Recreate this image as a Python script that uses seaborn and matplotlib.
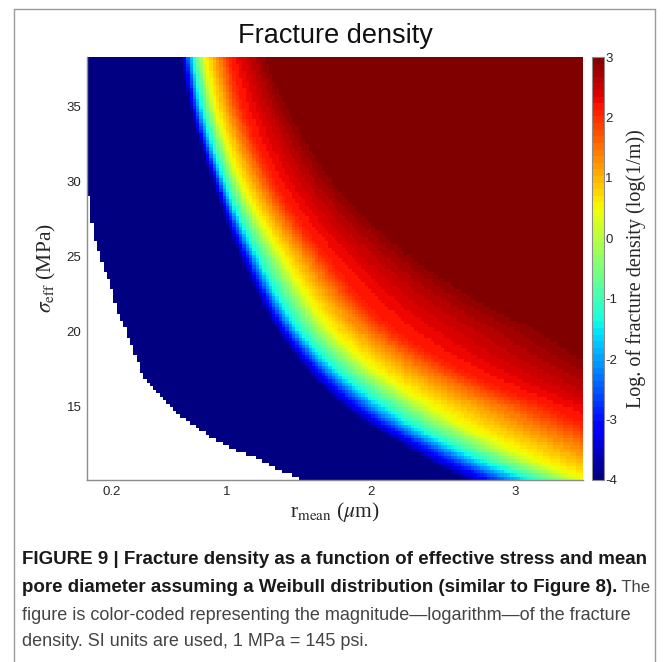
import numpy as np
import pandas as pd
import seaborn as sns
import matplotlib.pyplot as plt
from matplotlib.lines import Line2D

# r_mean (um) where log fracture density reaches each level,
# for a few sigma_eff rows (MPa)
sigma_rows = [10.2, 12.5, 15.0, 20.0, 25.0, 30.0, 35.0, 38.3]
levels = [-4.0, -1.4, 0.4, 2.1, 3.0]
r_at_m40 = [2.63, 2.20, 1.80, 1.35, 1.09, 0.90, 0.74, 0.68]
r_at_m14 = [3.08, 2.52, 2.08, 1.50, 1.21, 0.98, 0.82, 0.76]
r_at_p04 = [3.45, 2.88, 2.40, 1.72, 1.38, 1.09, 0.91, 0.84]
r_at_p21 = [4.43, 3.80, 3.20, 2.15, 1.68, 1.32, 1.10, 1.02]
r_at_p30 = [5.82, 5.00, 4.25, 3.30, 2.35, 1.78, 1.45, 1.29]

# edge of the undefined (white) region
nan_sigma = [10.13, 10.8, 11.67, 12.33, 13.47, 14.6, 15.93, 16.8, 18.13, 19.93,
             21.27, 23.27, 25.0, 27.5, 30.27]
nan_r = [1.51, 1.37, 1.18, 1.00, 0.815, 0.655, 0.516, 0.433, 0.377, 0.308,
         0.245, 0.19, 0.12, 0.06, 0.03]

r_lim = (0.03, 3.47)
s_lim = (10.1, 38.3)
xtick_vals = [0.2, 1, 2, 3]
ytick_vals = [15, 20, 25, 30, 35]
cbar_ticks = [-4, -3, -2, -1, 0, 1, 2, 3]

caption_bold1 = "FIGURE 9 | Fracture density as a function of effective stress and mean"
caption_bold2 = "pore diameter assuming a Weibull distribution (similar to Figure 8)."
caption_reg2 = " The"
caption_reg3 = "figure is color-coded representing the magnitude\u2014logarithm\u2014of the fracture"
caption_reg4 = "density. SI units are used, 1 MPa = 145 psi."

# grid of cells (the map itself)
nx, ny = 150, 122
r_edges = np.linspace(r_lim[0], r_lim[1], nx + 1)
s_edges = np.linspace(s_lim[0], s_lim[1], ny + 1)
r_c = 0.5 * (r_edges[:-1] + r_edges[1:])
s_c = 0.5 * (s_edges[:-1] + s_edges[1:])

ls_rows = np.log(sigma_rows)
level_tab = [np.log(a) for a in [r_at_m40, r_at_m14, r_at_p04, r_at_p21, r_at_p30]]
Z = np.empty((ny, nx))
for j, s in enumerate(s_c):
    pos = [np.exp(np.interp(np.log(s), ls_rows, arr)) for arr in level_tab]
    row = np.interp(r_c, pos, levels)
    edge = np.exp(np.interp(np.log(s), np.log(nan_sigma), np.log(nan_r), right=-50))
    row[r_c < edge] = np.nan
    Z[j] = row

df = pd.DataFrame(Z[::-1], index=np.round(s_c[::-1], 2), columns=np.round(r_c, 3))

sns.set_style("white")
plt.rcParams["font.family"] = ["Liberation Sans", "DejaVu Sans"]
plt.rcParams["mathtext.fontset"] = "stix"
plt.rcParams["axes.unicode_minus"] = False

W, H = 669, 662
fig = plt.figure(figsize=(W / 100, H / 100), dpi=100)
ax = fig.add_axes([87 / W, 1 - 480 / H, (583 - 87) / W, (480 - 57) / H])
cax = fig.add_axes([592 / W, 1 - 480 / H, 12 / W, (480 - 57) / H])

sns.heatmap(df, cmap=plt.get_cmap("jet", 64), vmin=-4, vmax=3, ax=ax, cbar_ax=cax,
            xticklabels=False, yticklabels=False, cbar_kws={"ticks": cbar_ticks})

gray = "#8c8c8c"
ax.set_xticks(np.interp(xtick_vals, r_edges, np.arange(nx + 1)))
ax.set_xticklabels([str(v) for v in xtick_vals], fontsize=9.5)
ax.set_yticks(np.interp(ytick_vals, s_edges, ny - np.arange(ny + 1)))
ax.set_yticklabels([str(v) for v in ytick_vals], fontsize=9.5, rotation=0)
ax.tick_params(direction="in", length=3, color=gray, pad=4)
for side in ["left", "bottom"]:
    ax.spines[side].set_visible(True)
    ax.spines[side].set_color(gray)
    ax.spines[side].set_linewidth(1)
ax.set_xlabel(r"r$_{\rm mean}$ ($\mu$m)", fontsize=15.5, fontname="Liberation Serif",
              labelpad=2)
ax.set_ylabel(r"$\sigma_{\rm eff}$ (MPa)", fontsize=15.5, fontname="Liberation Serif",
              labelpad=6)

cbar = ax.collections[0].colorbar
cbar.outline.set_linewidth(0.8)
cbar.outline.set_edgecolor(gray)
cax.tick_params(direction="in", length=3, labelsize=9.5, color="#444444", pad=1)
cbar.set_label("Log. of fracture density (log(1/m))", fontsize=14.5,
               fontname="Liberation Serif", labelpad=6)

fig.text(335 / W, 1 - 36 / H, "Fracture density", ha="center", va="center",
         fontsize=19.5, color="#111111")

# outer frame
fc = "#9a9a9a"
fig.add_artist(Line2D([14 / W, 14 / W], [0, 1 - 9 / H], color=fc, lw=1))
fig.add_artist(Line2D([14 / W, 655 / W], [1 - 9 / H, 1 - 9 / H], color=fc, lw=1))
fig.add_artist(Line2D([655 / W, 655 / W], [0, 1 - 9 / H], color=fc, lw=1))

# caption, sized to the widths in the reference
fig.canvas.draw()
rend = fig.canvas.get_renderer()


def fit(txt, weight, width_px):
    t = fig.text(0, 0, txt, fontsize=10, fontweight=weight)
    w = t.get_window_extent(rend).width
    t.remove()
    return 10 * width_px / w


fs_b = fit(caption_bold1, "bold", 628)
fs_r = fit(caption_reg3, "normal", 612)
x0 = 22 / W
fig.text(x0, 1 - 560 / H, caption_bold1, fontsize=fs_b, fontweight="bold",
         va="center", color="#1a1a1a")
tb2 = fig.text(x0, 1 - 587 / H, caption_bold2, fontsize=fs_b, fontweight="bold",
               va="center", color="#1a1a1a")
fig.canvas.draw()
bb = tb2.get_window_extent(rend)
fig.text(bb.x1 / W, 1 - 587 / H, caption_reg2, fontsize=fs_r * 0.92, va="center",
         color="#444444")
fig.text(x0, 1 - 615 / H, caption_reg3, fontsize=fs_r, va="center", color="#444444")
fig.text(x0, 1 - 642 / H, caption_reg4, fontsize=fs_r, va="center", color="#444444")

fig.savefig("out.png", dpi=100)
